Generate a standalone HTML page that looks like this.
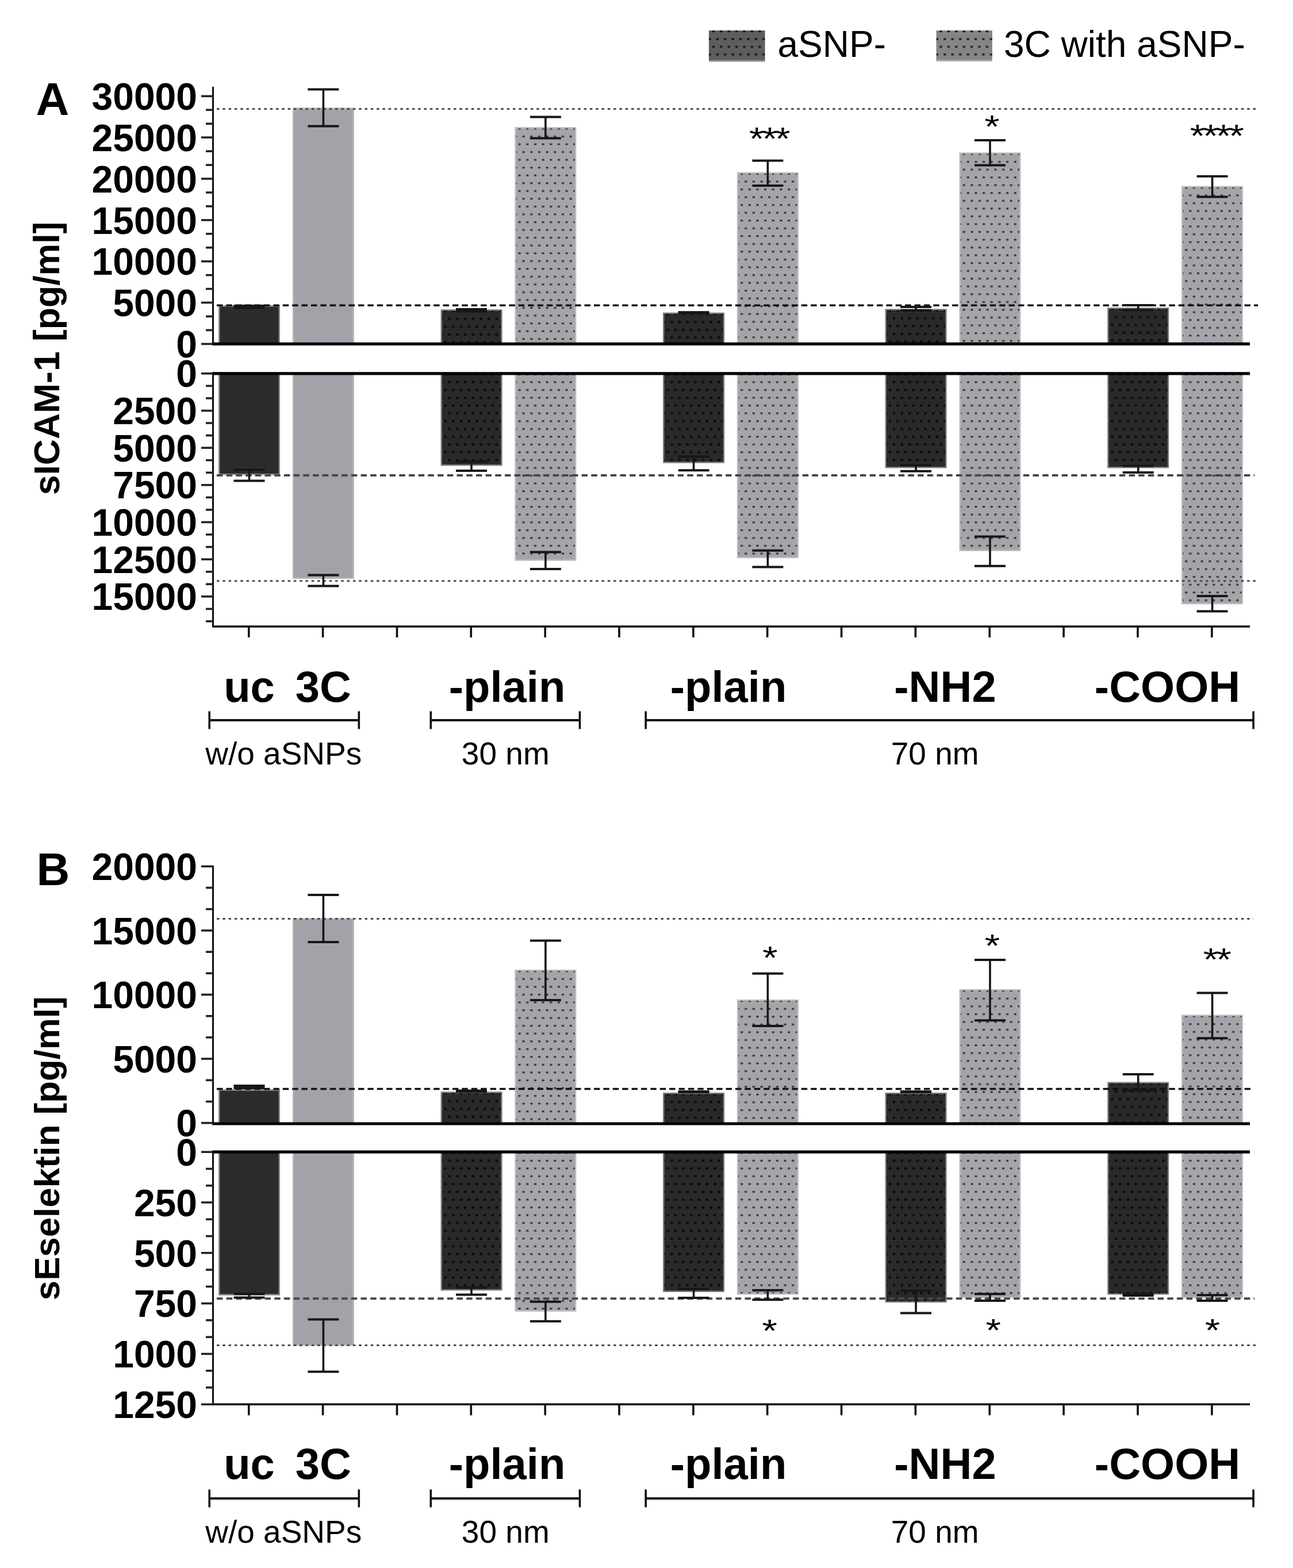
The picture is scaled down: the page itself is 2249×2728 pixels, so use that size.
<!DOCTYPE html>
<html><head><meta charset="utf-8"><title>sICAM-1 and sEselektin</title>
<style>html,body{margin:0;padding:0;background:#fff;}svg{display:block;}</style></head>
<body>
<svg width="2249" height="2728" viewBox="0 0 2249 2728" font-family='"Liberation Sans", Arial, sans-serif'>
<defs>
<pattern id="lg1" patternUnits="userSpaceOnUse" x="1230.00" y="50.00" width="13.4" height="26.8"><rect width="13.4" height="26.8" fill="#5e5e5e"/><rect x="8.73" y="3.00" width="4.5" height="3.2" fill="#141414"/><rect x="2.26" y="16.40" width="4.5" height="3.2" fill="#141414"/></pattern>
<pattern id="lg2" patternUnits="userSpaceOnUse" x="1625.50" y="50.00" width="13.4" height="26.8"><rect width="13.4" height="26.8" fill="#858585"/><rect x="8.73" y="3.00" width="4.5" height="3.2" fill="#1e1e1e"/><rect x="2.26" y="16.40" width="4.5" height="3.2" fill="#1e1e1e"/></pattern>
<pattern id="p1" patternUnits="userSpaceOnUse" x="763.55" y="536.50" width="13.67" height="27.1"><rect width="13.67" height="27.1" fill="#2a2a2a"/><rect x="9.00" y="2.50" width="4.4" height="4.2" fill="#0c0c0c"/><rect x="2.40" y="16.05" width="4.4" height="4.2" fill="#0c0c0c"/></pattern>
<pattern id="p2" patternUnits="userSpaceOnUse" x="892.40" y="219.30" width="13.67" height="27.1"><rect width="13.67" height="27.1" fill="#a6a4aa"/><rect x="9.20" y="3.10" width="4.0" height="3.0" fill="#2e2e2e"/><rect x="2.60" y="16.65" width="4.0" height="3.0" fill="#2e2e2e"/></pattern>
<pattern id="p3" patternUnits="userSpaceOnUse" x="1150.10" y="542.00" width="13.67" height="27.1"><rect width="13.67" height="27.1" fill="#2a2a2a"/><rect x="9.00" y="2.50" width="4.4" height="4.2" fill="#0c0c0c"/><rect x="2.40" y="16.05" width="4.4" height="4.2" fill="#0c0c0c"/></pattern>
<pattern id="p4" patternUnits="userSpaceOnUse" x="1278.95" y="297.80" width="13.67" height="27.1"><rect width="13.67" height="27.1" fill="#a6a4aa"/><rect x="9.20" y="3.10" width="4.0" height="3.0" fill="#2e2e2e"/><rect x="2.60" y="16.65" width="4.0" height="3.0" fill="#2e2e2e"/></pattern>
<pattern id="p5" patternUnits="userSpaceOnUse" x="1536.65" y="535.60" width="13.67" height="27.1"><rect width="13.67" height="27.1" fill="#2a2a2a"/><rect x="9.00" y="2.50" width="4.4" height="4.2" fill="#0c0c0c"/><rect x="2.40" y="16.05" width="4.4" height="4.2" fill="#0c0c0c"/></pattern>
<pattern id="p6" patternUnits="userSpaceOnUse" x="1665.50" y="263.40" width="13.67" height="27.1"><rect width="13.67" height="27.1" fill="#a6a4aa"/><rect x="9.20" y="3.10" width="4.0" height="3.0" fill="#2e2e2e"/><rect x="2.60" y="16.65" width="4.0" height="3.0" fill="#2e2e2e"/></pattern>
<pattern id="p7" patternUnits="userSpaceOnUse" x="1923.20" y="533.30" width="13.67" height="27.1"><rect width="13.67" height="27.1" fill="#2a2a2a"/><rect x="9.00" y="2.50" width="4.4" height="4.2" fill="#0c0c0c"/><rect x="2.40" y="16.05" width="4.4" height="4.2" fill="#0c0c0c"/></pattern>
<pattern id="p8" patternUnits="userSpaceOnUse" x="2052.05" y="321.80" width="13.67" height="27.1"><rect width="13.67" height="27.1" fill="#a6a4aa"/><rect x="9.20" y="3.10" width="4.0" height="3.0" fill="#2e2e2e"/><rect x="2.60" y="16.65" width="4.0" height="3.0" fill="#2e2e2e"/></pattern>
<pattern id="p9" patternUnits="userSpaceOnUse" x="763.55" y="646.80" width="13.67" height="27.1"><rect width="13.67" height="27.1" fill="#2a2a2a"/><rect x="9.00" y="2.50" width="4.4" height="4.2" fill="#0c0c0c"/><rect x="2.40" y="16.05" width="4.4" height="4.2" fill="#0c0c0c"/></pattern>
<pattern id="p10" patternUnits="userSpaceOnUse" x="892.40" y="646.80" width="13.67" height="27.1"><rect width="13.67" height="27.1" fill="#a6a4aa"/><rect x="9.20" y="3.10" width="4.0" height="3.0" fill="#2e2e2e"/><rect x="2.60" y="16.65" width="4.0" height="3.0" fill="#2e2e2e"/></pattern>
<pattern id="p11" patternUnits="userSpaceOnUse" x="1150.10" y="646.80" width="13.67" height="27.1"><rect width="13.67" height="27.1" fill="#2a2a2a"/><rect x="9.00" y="2.50" width="4.4" height="4.2" fill="#0c0c0c"/><rect x="2.40" y="16.05" width="4.4" height="4.2" fill="#0c0c0c"/></pattern>
<pattern id="p12" patternUnits="userSpaceOnUse" x="1278.95" y="646.80" width="13.67" height="27.1"><rect width="13.67" height="27.1" fill="#a6a4aa"/><rect x="9.20" y="3.10" width="4.0" height="3.0" fill="#2e2e2e"/><rect x="2.60" y="16.65" width="4.0" height="3.0" fill="#2e2e2e"/></pattern>
<pattern id="p13" patternUnits="userSpaceOnUse" x="1536.65" y="646.80" width="13.67" height="27.1"><rect width="13.67" height="27.1" fill="#2a2a2a"/><rect x="9.00" y="2.50" width="4.4" height="4.2" fill="#0c0c0c"/><rect x="2.40" y="16.05" width="4.4" height="4.2" fill="#0c0c0c"/></pattern>
<pattern id="p14" patternUnits="userSpaceOnUse" x="1665.50" y="646.80" width="13.67" height="27.1"><rect width="13.67" height="27.1" fill="#a6a4aa"/><rect x="9.20" y="3.10" width="4.0" height="3.0" fill="#2e2e2e"/><rect x="2.60" y="16.65" width="4.0" height="3.0" fill="#2e2e2e"/></pattern>
<pattern id="p15" patternUnits="userSpaceOnUse" x="1923.20" y="646.80" width="13.67" height="27.1"><rect width="13.67" height="27.1" fill="#2a2a2a"/><rect x="9.00" y="2.50" width="4.4" height="4.2" fill="#0c0c0c"/><rect x="2.40" y="16.05" width="4.4" height="4.2" fill="#0c0c0c"/></pattern>
<pattern id="p16" patternUnits="userSpaceOnUse" x="2052.05" y="646.80" width="13.67" height="27.1"><rect width="13.67" height="27.1" fill="#a6a4aa"/><rect x="9.20" y="3.10" width="4.0" height="3.0" fill="#2e2e2e"/><rect x="2.60" y="16.65" width="4.0" height="3.0" fill="#2e2e2e"/></pattern>
<pattern id="p17" patternUnits="userSpaceOnUse" x="763.55" y="1897.50" width="13.67" height="27.1"><rect width="13.67" height="27.1" fill="#2a2a2a"/><rect x="9.00" y="2.50" width="4.4" height="4.2" fill="#0c0c0c"/><rect x="2.40" y="16.05" width="4.4" height="4.2" fill="#0c0c0c"/></pattern>
<pattern id="p18" patternUnits="userSpaceOnUse" x="892.40" y="1685.20" width="13.67" height="27.1"><rect width="13.67" height="27.1" fill="#a6a4aa"/><rect x="9.20" y="3.10" width="4.0" height="3.0" fill="#2e2e2e"/><rect x="2.60" y="16.65" width="4.0" height="3.0" fill="#2e2e2e"/></pattern>
<pattern id="p19" patternUnits="userSpaceOnUse" x="1150.10" y="1899.20" width="13.67" height="27.1"><rect width="13.67" height="27.1" fill="#2a2a2a"/><rect x="9.00" y="2.50" width="4.4" height="4.2" fill="#0c0c0c"/><rect x="2.40" y="16.05" width="4.4" height="4.2" fill="#0c0c0c"/></pattern>
<pattern id="p20" patternUnits="userSpaceOnUse" x="1278.95" y="1737.10" width="13.67" height="27.1"><rect width="13.67" height="27.1" fill="#a6a4aa"/><rect x="9.20" y="3.10" width="4.0" height="3.0" fill="#2e2e2e"/><rect x="2.60" y="16.65" width="4.0" height="3.0" fill="#2e2e2e"/></pattern>
<pattern id="p21" patternUnits="userSpaceOnUse" x="1536.65" y="1899.20" width="13.67" height="27.1"><rect width="13.67" height="27.1" fill="#2a2a2a"/><rect x="9.00" y="2.50" width="4.4" height="4.2" fill="#0c0c0c"/><rect x="2.40" y="16.05" width="4.4" height="4.2" fill="#0c0c0c"/></pattern>
<pattern id="p22" patternUnits="userSpaceOnUse" x="1665.50" y="1719.20" width="13.67" height="27.1"><rect width="13.67" height="27.1" fill="#a6a4aa"/><rect x="9.20" y="3.10" width="4.0" height="3.0" fill="#2e2e2e"/><rect x="2.60" y="16.65" width="4.0" height="3.0" fill="#2e2e2e"/></pattern>
<pattern id="p23" patternUnits="userSpaceOnUse" x="1923.20" y="1880.70" width="13.67" height="27.1"><rect width="13.67" height="27.1" fill="#2a2a2a"/><rect x="9.00" y="2.50" width="4.4" height="4.2" fill="#0c0c0c"/><rect x="2.40" y="16.05" width="4.4" height="4.2" fill="#0c0c0c"/></pattern>
<pattern id="p24" patternUnits="userSpaceOnUse" x="2052.05" y="1763.60" width="13.67" height="27.1"><rect width="13.67" height="27.1" fill="#a6a4aa"/><rect x="9.20" y="3.10" width="4.0" height="3.0" fill="#2e2e2e"/><rect x="2.60" y="16.65" width="4.0" height="3.0" fill="#2e2e2e"/></pattern>
<pattern id="p25" patternUnits="userSpaceOnUse" x="763.55" y="2001.20" width="13.67" height="27.1"><rect width="13.67" height="27.1" fill="#2a2a2a"/><rect x="9.00" y="2.50" width="4.4" height="4.2" fill="#0c0c0c"/><rect x="2.40" y="16.05" width="4.4" height="4.2" fill="#0c0c0c"/></pattern>
<pattern id="p26" patternUnits="userSpaceOnUse" x="892.40" y="2001.20" width="13.67" height="27.1"><rect width="13.67" height="27.1" fill="#a6a4aa"/><rect x="9.20" y="3.10" width="4.0" height="3.0" fill="#2e2e2e"/><rect x="2.60" y="16.65" width="4.0" height="3.0" fill="#2e2e2e"/></pattern>
<pattern id="p27" patternUnits="userSpaceOnUse" x="1150.10" y="2001.20" width="13.67" height="27.1"><rect width="13.67" height="27.1" fill="#2a2a2a"/><rect x="9.00" y="2.50" width="4.4" height="4.2" fill="#0c0c0c"/><rect x="2.40" y="16.05" width="4.4" height="4.2" fill="#0c0c0c"/></pattern>
<pattern id="p28" patternUnits="userSpaceOnUse" x="1278.95" y="2001.20" width="13.67" height="27.1"><rect width="13.67" height="27.1" fill="#a6a4aa"/><rect x="9.20" y="3.10" width="4.0" height="3.0" fill="#2e2e2e"/><rect x="2.60" y="16.65" width="4.0" height="3.0" fill="#2e2e2e"/></pattern>
<pattern id="p29" patternUnits="userSpaceOnUse" x="1536.65" y="2001.20" width="13.67" height="27.1"><rect width="13.67" height="27.1" fill="#2a2a2a"/><rect x="9.00" y="2.50" width="4.4" height="4.2" fill="#0c0c0c"/><rect x="2.40" y="16.05" width="4.4" height="4.2" fill="#0c0c0c"/></pattern>
<pattern id="p30" patternUnits="userSpaceOnUse" x="1665.50" y="2001.20" width="13.67" height="27.1"><rect width="13.67" height="27.1" fill="#a6a4aa"/><rect x="9.20" y="3.10" width="4.0" height="3.0" fill="#2e2e2e"/><rect x="2.60" y="16.65" width="4.0" height="3.0" fill="#2e2e2e"/></pattern>
<pattern id="p31" patternUnits="userSpaceOnUse" x="1923.20" y="2001.20" width="13.67" height="27.1"><rect width="13.67" height="27.1" fill="#2a2a2a"/><rect x="9.00" y="2.50" width="4.4" height="4.2" fill="#0c0c0c"/><rect x="2.40" y="16.05" width="4.4" height="4.2" fill="#0c0c0c"/></pattern>
<pattern id="p32" patternUnits="userSpaceOnUse" x="2052.05" y="2001.20" width="13.67" height="27.1"><rect width="13.67" height="27.1" fill="#a6a4aa"/><rect x="9.20" y="3.10" width="4.0" height="3.0" fill="#2e2e2e"/><rect x="2.60" y="16.65" width="4.0" height="3.0" fill="#2e2e2e"/></pattern>
</defs>
<rect width="2249" height="2728" fill="#fff"/>

<rect x="1233" y="53" width="97.6" height="52" fill="url(#lg1)"/><rect x="1233" y="104.8" width="97.6" height="2.8" fill="#9a9a9a"/>
<text x="1352.5" y="99.0" font-size="64" font-weight="normal" text-anchor="start">aSNP-</text>
<rect x="1628.5" y="53" width="97.4" height="51.5" fill="url(#lg2)"/><rect x="1628.5" y="104.3" width="97.4" height="2.6" fill="#aaa"/>
<text x="1746.0" y="99.0" font-size="64" font-weight="normal" text-anchor="start">3C with aSNP-</text>
<text x="62.5" y="199.7" font-size="80" font-weight="bold" text-anchor="start">A</text>
<text x="0" y="0" font-size="62.5" font-weight="bold" text-anchor="middle" transform="translate(102.7,623.5) rotate(-90)">sICAM-1 [pg/ml]</text>
<rect x="381.2" y="532.5" width="104.6" height="65.9" fill="#2b2b2b" stroke="#8a8a8a" stroke-width="2.4"/>
<rect x="510.1" y="188.5" width="104.6" height="409.9" fill="#a4a1a8" stroke="#b8b8b8" stroke-width="2.4"/>
<rect x="767.8" y="539.5" width="104.6" height="58.9" fill="url(#p1)" stroke="#7a7a7a" stroke-width="2.4"/>
<rect x="896.6" y="222.3" width="104.6" height="376.1" fill="url(#p2)" stroke="#bdbdbd" stroke-width="2.4"/>
<rect x="1154.3" y="545.0" width="104.6" height="53.4" fill="url(#p3)" stroke="#7a7a7a" stroke-width="2.4"/>
<rect x="1283.1" y="300.8" width="104.6" height="297.6" fill="url(#p4)" stroke="#bdbdbd" stroke-width="2.4"/>
<rect x="1540.8" y="538.6" width="104.6" height="59.8" fill="url(#p5)" stroke="#7a7a7a" stroke-width="2.4"/>
<rect x="1669.7" y="266.4" width="104.6" height="332.0" fill="url(#p6)" stroke="#bdbdbd" stroke-width="2.4"/>
<rect x="1927.4" y="536.3" width="104.6" height="62.1" fill="url(#p7)" stroke="#7a7a7a" stroke-width="2.4"/>
<rect x="2056.2" y="324.8" width="104.6" height="273.6" fill="url(#p8)" stroke="#bdbdbd" stroke-width="2.4"/>
<rect x="381.2" y="649.8" width="104.6" height="175.4" fill="#2b2b2b" stroke="#8a8a8a" stroke-width="2.4"/>
<rect x="510.1" y="649.8" width="104.6" height="356.2" fill="#a4a1a8" stroke="#b8b8b8" stroke-width="2.4"/>
<rect x="767.8" y="649.8" width="104.6" height="159.4" fill="url(#p9)" stroke="#7a7a7a" stroke-width="2.4"/>
<rect x="896.6" y="649.8" width="104.6" height="324.7" fill="url(#p10)" stroke="#bdbdbd" stroke-width="2.4"/>
<rect x="1154.3" y="649.8" width="104.6" height="154.7" fill="url(#p11)" stroke="#7a7a7a" stroke-width="2.4"/>
<rect x="1283.1" y="649.8" width="104.6" height="320.1" fill="url(#p12)" stroke="#bdbdbd" stroke-width="2.4"/>
<rect x="1540.8" y="649.8" width="104.6" height="163.4" fill="url(#p13)" stroke="#7a7a7a" stroke-width="2.4"/>
<rect x="1669.7" y="649.8" width="104.6" height="307.9" fill="url(#p14)" stroke="#bdbdbd" stroke-width="2.4"/>
<rect x="1927.4" y="649.8" width="104.6" height="163.4" fill="url(#p15)" stroke="#7a7a7a" stroke-width="2.4"/>
<rect x="2056.2" y="649.8" width="104.6" height="400.4" fill="url(#p16)" stroke="#bdbdbd" stroke-width="2.4"/>
<line x1="377.0" y1="189.6" x2="2186.0" y2="189.6" stroke="#4a4a4a" stroke-width="3" stroke-dasharray="4.5 5.8"/>
<line x1="377.0" y1="531.3" x2="2188.0" y2="531.3" stroke="#111" stroke-width="3.4" stroke-dasharray="10.4 6"/>
<line x1="377.0" y1="827.1" x2="2182.0" y2="827.1" stroke="#484848" stroke-width="4" stroke-dasharray="10.5 6.2"/>
<line x1="377.0" y1="1010.8" x2="2185.0" y2="1010.8" stroke="#4a4a4a" stroke-width="3" stroke-dasharray="4.5 5.8"/>
<g stroke="#161616" fill="none"><line x1="433.5" y1="531.9" x2="433.5" y2="535.7" stroke-width="3.6"/><line x1="406.5" y1="531.9" x2="460.5" y2="531.9" stroke-width="4"/><line x1="406.5" y1="535.7" x2="460.5" y2="535.7" stroke-width="4"/></g>
<g stroke="#161616" fill="none"><line x1="562.4" y1="155.6" x2="562.4" y2="219.6" stroke-width="3.6"/><line x1="535.4" y1="155.6" x2="589.4" y2="155.6" stroke-width="4"/><line x1="535.4" y1="219.6" x2="589.4" y2="219.6" stroke-width="4"/></g>
<g stroke="#161616" fill="none"><line x1="820.0" y1="537.9" x2="820.0" y2="541.5" stroke-width="3.6"/><line x1="793.0" y1="537.9" x2="847.0" y2="537.9" stroke-width="4"/><line x1="793.0" y1="541.5" x2="847.0" y2="541.5" stroke-width="4"/></g>
<g stroke="#161616" fill="none"><line x1="948.9" y1="203.4" x2="948.9" y2="240.5" stroke-width="3.6"/><line x1="921.9" y1="203.4" x2="975.9" y2="203.4" stroke-width="4"/><line x1="921.9" y1="240.5" x2="975.9" y2="240.5" stroke-width="4"/></g>
<g stroke="#161616" fill="none"><line x1="1206.6" y1="543.3" x2="1206.6" y2="544.8" stroke-width="3.6"/><line x1="1179.6" y1="543.3" x2="1233.6" y2="543.3" stroke-width="4"/><line x1="1179.6" y1="544.8" x2="1233.6" y2="544.8" stroke-width="4"/></g>
<g stroke="#161616" fill="none"><line x1="1335.4" y1="279.4" x2="1335.4" y2="322.9" stroke-width="3.6"/><line x1="1308.4" y1="279.4" x2="1362.4" y2="279.4" stroke-width="4"/><line x1="1308.4" y1="322.9" x2="1362.4" y2="322.9" stroke-width="4"/></g>
<g stroke="#161616" fill="none"><line x1="1593.1" y1="534.0" x2="1593.1" y2="540.0" stroke-width="3.6"/><line x1="1566.1" y1="534.0" x2="1620.1" y2="534.0" stroke-width="4"/><line x1="1566.1" y1="540.0" x2="1620.1" y2="540.0" stroke-width="4"/></g>
<g stroke="#161616" fill="none"><line x1="1722.0" y1="243.9" x2="1722.0" y2="287.5" stroke-width="3.6"/><line x1="1695.0" y1="243.9" x2="1749.0" y2="243.9" stroke-width="4"/><line x1="1695.0" y1="287.5" x2="1749.0" y2="287.5" stroke-width="4"/></g>
<g stroke="#161616" fill="none"><line x1="1979.7" y1="531.1" x2="1979.7" y2="539.4" stroke-width="3.6"/><line x1="1952.7" y1="531.1" x2="2006.7" y2="531.1" stroke-width="4"/><line x1="1952.7" y1="539.4" x2="2006.7" y2="539.4" stroke-width="4"/></g>
<g stroke="#161616" fill="none"><line x1="2108.6" y1="306.7" x2="2108.6" y2="342.4" stroke-width="3.6"/><line x1="2081.6" y1="306.7" x2="2135.6" y2="306.7" stroke-width="4"/><line x1="2081.6" y1="342.4" x2="2135.6" y2="342.4" stroke-width="4"/></g>
<g stroke="#161616" fill="none"><line x1="433.5" y1="817.6" x2="433.5" y2="836.6" stroke-width="3.6"/><line x1="406.5" y1="817.6" x2="460.5" y2="817.6" stroke-width="4"/><line x1="406.5" y1="836.6" x2="460.5" y2="836.6" stroke-width="4"/></g>
<g stroke="#161616" fill="none"><line x1="562.4" y1="1000.6" x2="562.4" y2="1019.5" stroke-width="3.6"/><line x1="535.4" y1="1000.6" x2="589.4" y2="1000.6" stroke-width="4"/><line x1="535.4" y1="1019.5" x2="589.4" y2="1019.5" stroke-width="4"/></g>
<g stroke="#161616" fill="none"><line x1="820.0" y1="802.9" x2="820.0" y2="818.9" stroke-width="3.6"/><line x1="793.0" y1="802.9" x2="847.0" y2="802.9" stroke-width="4"/><line x1="793.0" y1="818.9" x2="847.0" y2="818.9" stroke-width="4"/></g>
<g stroke="#161616" fill="none"><line x1="948.9" y1="960.6" x2="948.9" y2="990.0" stroke-width="3.6"/><line x1="921.9" y1="960.6" x2="975.9" y2="960.6" stroke-width="4"/><line x1="921.9" y1="990.0" x2="975.9" y2="990.0" stroke-width="4"/></g>
<g stroke="#161616" fill="none"><line x1="1206.6" y1="794.2" x2="1206.6" y2="818.2" stroke-width="3.6"/><line x1="1179.6" y1="794.2" x2="1233.6" y2="794.2" stroke-width="4"/><line x1="1179.6" y1="818.2" x2="1233.6" y2="818.2" stroke-width="4"/></g>
<g stroke="#161616" fill="none"><line x1="1335.4" y1="957.7" x2="1335.4" y2="986.6" stroke-width="3.6"/><line x1="1308.4" y1="957.7" x2="1362.4" y2="957.7" stroke-width="4"/><line x1="1308.4" y1="986.6" x2="1362.4" y2="986.6" stroke-width="4"/></g>
<g stroke="#161616" fill="none"><line x1="1593.1" y1="809.4" x2="1593.1" y2="819.7" stroke-width="3.6"/><line x1="1566.1" y1="809.4" x2="1620.1" y2="809.4" stroke-width="4"/><line x1="1566.1" y1="819.7" x2="1620.1" y2="819.7" stroke-width="4"/></g>
<g stroke="#161616" fill="none"><line x1="1722.0" y1="933.4" x2="1722.0" y2="984.7" stroke-width="3.6"/><line x1="1695.0" y1="933.4" x2="1749.0" y2="933.4" stroke-width="4"/><line x1="1695.0" y1="984.7" x2="1749.0" y2="984.7" stroke-width="4"/></g>
<g stroke="#161616" fill="none"><line x1="1979.7" y1="810.6" x2="1979.7" y2="821.9" stroke-width="3.6"/><line x1="1952.7" y1="810.6" x2="2006.7" y2="810.6" stroke-width="4"/><line x1="1952.7" y1="821.9" x2="2006.7" y2="821.9" stroke-width="4"/></g>
<g stroke="#161616" fill="none"><line x1="2108.6" y1="1037.0" x2="2108.6" y2="1063.4" stroke-width="3.6"/><line x1="2081.6" y1="1037.0" x2="2135.6" y2="1037.0" stroke-width="4"/><line x1="2081.6" y1="1063.4" x2="2135.6" y2="1063.4" stroke-width="4"/></g>
<line x1="370.5" y1="151.0" x2="370.5" y2="600.4" stroke="#000" stroke-width="2.8"/>
<line x1="370.5" y1="647.8" x2="370.5" y2="1090.0" stroke="#000" stroke-width="2.8"/>
<line x1="369.1" y1="598.4" x2="2174.0" y2="598.4" stroke="#000" stroke-width="5.2"/>
<line x1="369.1" y1="649.8" x2="2174.0" y2="649.8" stroke="#000" stroke-width="5.3"/>
<line x1="369.1" y1="1090.0" x2="2174.0" y2="1090.0" stroke="#000" stroke-width="3.6"/>
<line x1="432.8" y1="1090.0" x2="432.8" y2="1109.0" stroke="#111" stroke-width="3.6"/>
<line x1="561.6" y1="1090.0" x2="561.6" y2="1109.0" stroke="#111" stroke-width="3.6"/>
<line x1="690.5" y1="1090.0" x2="690.5" y2="1109.0" stroke="#111" stroke-width="3.6"/>
<line x1="819.3" y1="1090.0" x2="819.3" y2="1109.0" stroke="#111" stroke-width="3.6"/>
<line x1="948.2" y1="1090.0" x2="948.2" y2="1109.0" stroke="#111" stroke-width="3.6"/>
<line x1="1077.0" y1="1090.0" x2="1077.0" y2="1109.0" stroke="#111" stroke-width="3.6"/>
<line x1="1205.9" y1="1090.0" x2="1205.9" y2="1109.0" stroke="#111" stroke-width="3.6"/>
<line x1="1334.7" y1="1090.0" x2="1334.7" y2="1109.0" stroke="#111" stroke-width="3.6"/>
<line x1="1463.6" y1="1090.0" x2="1463.6" y2="1109.0" stroke="#111" stroke-width="3.6"/>
<line x1="1592.4" y1="1090.0" x2="1592.4" y2="1109.0" stroke="#111" stroke-width="3.6"/>
<line x1="1721.3" y1="1090.0" x2="1721.3" y2="1109.0" stroke="#111" stroke-width="3.6"/>
<line x1="1850.1" y1="1090.0" x2="1850.1" y2="1109.0" stroke="#111" stroke-width="3.6"/>
<line x1="1979.0" y1="1090.0" x2="1979.0" y2="1109.0" stroke="#111" stroke-width="3.6"/>
<line x1="2107.9" y1="1090.0" x2="2107.9" y2="1109.0" stroke="#111" stroke-width="3.6"/>
<line x1="350.0" y1="598.4" x2="370.5" y2="598.4" stroke="#222" stroke-width="3.6"/>
<text x="343.0" y="622.0" font-size="66" font-weight="bold" text-anchor="end">0</text>
<line x1="350.0" y1="526.5" x2="370.5" y2="526.5" stroke="#222" stroke-width="3.6"/>
<text x="343.0" y="550.2" font-size="66" font-weight="bold" text-anchor="end">5000</text>
<line x1="350.0" y1="454.7" x2="370.5" y2="454.7" stroke="#222" stroke-width="3.6"/>
<text x="343.0" y="478.3" font-size="66" font-weight="bold" text-anchor="end">10000</text>
<line x1="350.0" y1="382.9" x2="370.5" y2="382.9" stroke="#222" stroke-width="3.6"/>
<text x="343.0" y="406.5" font-size="66" font-weight="bold" text-anchor="end">15000</text>
<line x1="350.0" y1="311.0" x2="370.5" y2="311.0" stroke="#222" stroke-width="3.6"/>
<text x="343.0" y="334.6" font-size="66" font-weight="bold" text-anchor="end">20000</text>
<line x1="350.0" y1="239.1" x2="370.5" y2="239.1" stroke="#222" stroke-width="3.6"/>
<text x="343.0" y="262.8" font-size="66" font-weight="bold" text-anchor="end">25000</text>
<line x1="350.0" y1="167.3" x2="370.5" y2="167.3" stroke="#222" stroke-width="3.6"/>
<text x="343.0" y="190.9" font-size="66" font-weight="bold" text-anchor="end">30000</text>
<line x1="358.0" y1="574.4" x2="370.5" y2="574.4" stroke="#222" stroke-width="3.6"/>
<line x1="358.0" y1="550.5" x2="370.5" y2="550.5" stroke="#222" stroke-width="3.6"/>
<line x1="358.0" y1="502.6" x2="370.5" y2="502.6" stroke="#222" stroke-width="3.6"/>
<line x1="358.0" y1="478.6" x2="370.5" y2="478.6" stroke="#222" stroke-width="3.6"/>
<line x1="358.0" y1="430.8" x2="370.5" y2="430.8" stroke="#222" stroke-width="3.6"/>
<line x1="358.0" y1="406.8" x2="370.5" y2="406.8" stroke="#222" stroke-width="3.6"/>
<line x1="358.0" y1="358.9" x2="370.5" y2="358.9" stroke="#222" stroke-width="3.6"/>
<line x1="358.0" y1="334.9" x2="370.5" y2="334.9" stroke="#222" stroke-width="3.6"/>
<line x1="358.0" y1="287.0" x2="370.5" y2="287.0" stroke="#222" stroke-width="3.6"/>
<line x1="358.0" y1="263.1" x2="370.5" y2="263.1" stroke="#222" stroke-width="3.6"/>
<line x1="358.0" y1="215.2" x2="370.5" y2="215.2" stroke="#222" stroke-width="3.6"/>
<line x1="358.0" y1="191.2" x2="370.5" y2="191.2" stroke="#222" stroke-width="3.6"/>
<line x1="350.0" y1="649.8" x2="370.5" y2="649.8" stroke="#222" stroke-width="3.6"/>
<text x="343.0" y="673.4" font-size="66" font-weight="bold" text-anchor="end">0</text>
<line x1="350.0" y1="714.5" x2="370.5" y2="714.5" stroke="#222" stroke-width="3.6"/>
<text x="343.0" y="738.1" font-size="66" font-weight="bold" text-anchor="end">2500</text>
<line x1="350.0" y1="779.1" x2="370.5" y2="779.1" stroke="#222" stroke-width="3.6"/>
<text x="343.0" y="802.8" font-size="66" font-weight="bold" text-anchor="end">5000</text>
<line x1="350.0" y1="843.8" x2="370.5" y2="843.8" stroke="#222" stroke-width="3.6"/>
<text x="343.0" y="867.4" font-size="66" font-weight="bold" text-anchor="end">7500</text>
<line x1="350.0" y1="908.5" x2="370.5" y2="908.5" stroke="#222" stroke-width="3.6"/>
<text x="343.0" y="932.1" font-size="66" font-weight="bold" text-anchor="end">10000</text>
<line x1="350.0" y1="973.1" x2="370.5" y2="973.1" stroke="#222" stroke-width="3.6"/>
<text x="343.0" y="996.8" font-size="66" font-weight="bold" text-anchor="end">12500</text>
<line x1="350.0" y1="1037.8" x2="370.5" y2="1037.8" stroke="#222" stroke-width="3.6"/>
<text x="343.0" y="1061.4" font-size="66" font-weight="bold" text-anchor="end">15000</text>
<line x1="358.0" y1="671.4" x2="370.5" y2="671.4" stroke="#222" stroke-width="3.6"/>
<line x1="358.0" y1="692.9" x2="370.5" y2="692.9" stroke="#222" stroke-width="3.6"/>
<line x1="358.0" y1="736.0" x2="370.5" y2="736.0" stroke="#222" stroke-width="3.6"/>
<line x1="358.0" y1="757.6" x2="370.5" y2="757.6" stroke="#222" stroke-width="3.6"/>
<line x1="358.0" y1="800.7" x2="370.5" y2="800.7" stroke="#222" stroke-width="3.6"/>
<line x1="358.0" y1="822.3" x2="370.5" y2="822.3" stroke="#222" stroke-width="3.6"/>
<line x1="358.0" y1="865.4" x2="370.5" y2="865.4" stroke="#222" stroke-width="3.6"/>
<line x1="358.0" y1="886.9" x2="370.5" y2="886.9" stroke="#222" stroke-width="3.6"/>
<line x1="358.0" y1="930.0" x2="370.5" y2="930.0" stroke="#222" stroke-width="3.6"/>
<line x1="358.0" y1="951.6" x2="370.5" y2="951.6" stroke="#222" stroke-width="3.6"/>
<line x1="358.0" y1="994.7" x2="370.5" y2="994.7" stroke="#222" stroke-width="3.6"/>
<line x1="358.0" y1="1016.3" x2="370.5" y2="1016.3" stroke="#222" stroke-width="3.6"/>
<line x1="358.0" y1="1059.4" x2="370.5" y2="1059.4" stroke="#222" stroke-width="3.6"/>
<line x1="358.0" y1="1080.9" x2="370.5" y2="1080.9" stroke="#222" stroke-width="3.6"/>
<text transform="translate(1337.0,260.3) scale(1.17,0.96)" font-size="58" text-anchor="middle" letter-spacing="-3.25">***</text>
<text transform="translate(1723.5,239.0) scale(1.17,0.96)" font-size="58" text-anchor="middle" letter-spacing="-3.25">*</text>
<text transform="translate(2115.0,255.2) scale(1.17,0.96)" font-size="58" text-anchor="middle" letter-spacing="-3.25">****</text>
<text x="433.5" y="1220.6" font-size="76" font-weight="bold" text-anchor="middle">uc</text>
<text x="562.4" y="1220.6" font-size="76" font-weight="bold" text-anchor="middle">3C</text>
<text x="882.0" y="1220.6" font-size="76" font-weight="bold" text-anchor="middle">-plain</text>
<text x="1267.0" y="1220.6" font-size="76" font-weight="bold" text-anchor="middle">-plain</text>
<text x="1644.0" y="1220.6" font-size="76" font-weight="bold" text-anchor="middle">-NH2</text>
<text x="2030.5" y="1220.6" font-size="76" font-weight="bold" text-anchor="middle">-COOH</text>
<line x1="364.2" y1="1252.9" x2="624.3" y2="1252.9" stroke="#111" stroke-width="4"/>
<line x1="364.2" y1="1237.4" x2="364.2" y2="1268.4" stroke="#111" stroke-width="3.6"/>
<line x1="624.3" y1="1237.4" x2="624.3" y2="1268.4" stroke="#111" stroke-width="3.6"/>
<line x1="749.3" y1="1252.9" x2="1008.5" y2="1252.9" stroke="#111" stroke-width="4"/>
<line x1="749.3" y1="1237.4" x2="749.3" y2="1268.4" stroke="#111" stroke-width="3.6"/>
<line x1="1008.5" y1="1237.4" x2="1008.5" y2="1268.4" stroke="#111" stroke-width="3.6"/>
<line x1="1123.2" y1="1252.9" x2="2180.1" y2="1252.9" stroke="#111" stroke-width="4"/>
<line x1="1123.2" y1="1237.4" x2="1123.2" y2="1268.4" stroke="#111" stroke-width="3.6"/>
<line x1="2180.1" y1="1237.4" x2="2180.1" y2="1268.4" stroke="#111" stroke-width="3.6"/>
<text x="493.2" y="1329.5" font-size="55" font-weight="normal" text-anchor="middle">w/o aSNPs</text>
<text x="879.3" y="1329.5" font-size="55" font-weight="normal" text-anchor="middle">30 nm</text>
<text x="1626.2" y="1329.5" font-size="55" font-weight="normal" text-anchor="middle">70 nm</text>
<text x="63.5" y="1539.9" font-size="80" font-weight="bold" text-anchor="start">B</text>
<text x="0" y="0" font-size="61.8" font-weight="bold" text-anchor="middle" transform="translate(102.7,1997.8) rotate(-90)">sEselektin [pg/ml]</text>
<rect x="381.2" y="1896.5" width="104.6" height="58.5" fill="#2b2b2b" stroke="#8a8a8a" stroke-width="2.4"/>
<rect x="510.1" y="1598.6" width="104.6" height="356.4" fill="#a4a1a8" stroke="#b8b8b8" stroke-width="2.4"/>
<rect x="767.8" y="1900.5" width="104.6" height="54.5" fill="url(#p17)" stroke="#7a7a7a" stroke-width="2.4"/>
<rect x="896.6" y="1688.2" width="104.6" height="266.8" fill="url(#p18)" stroke="#bdbdbd" stroke-width="2.4"/>
<rect x="1154.3" y="1902.2" width="104.6" height="52.8" fill="url(#p19)" stroke="#7a7a7a" stroke-width="2.4"/>
<rect x="1283.1" y="1740.1" width="104.6" height="214.9" fill="url(#p20)" stroke="#bdbdbd" stroke-width="2.4"/>
<rect x="1540.8" y="1902.2" width="104.6" height="52.8" fill="url(#p21)" stroke="#7a7a7a" stroke-width="2.4"/>
<rect x="1669.7" y="1722.2" width="104.6" height="232.8" fill="url(#p22)" stroke="#bdbdbd" stroke-width="2.4"/>
<rect x="1927.4" y="1883.7" width="104.6" height="71.3" fill="url(#p23)" stroke="#7a7a7a" stroke-width="2.4"/>
<rect x="2056.2" y="1766.6" width="104.6" height="188.4" fill="url(#p24)" stroke="#bdbdbd" stroke-width="2.4"/>
<rect x="381.2" y="2004.2" width="104.6" height="248.3" fill="#2b2b2b" stroke="#8a8a8a" stroke-width="2.4"/>
<rect x="510.1" y="2004.2" width="104.6" height="336.2" fill="#a4a1a8" stroke="#b8b8b8" stroke-width="2.4"/>
<rect x="767.8" y="2004.2" width="104.6" height="239.9" fill="url(#p25)" stroke="#7a7a7a" stroke-width="2.4"/>
<rect x="896.6" y="2004.2" width="104.6" height="276.5" fill="url(#p26)" stroke="#bdbdbd" stroke-width="2.4"/>
<rect x="1154.3" y="2004.2" width="104.6" height="242.5" fill="url(#p27)" stroke="#7a7a7a" stroke-width="2.4"/>
<rect x="1283.1" y="2004.2" width="104.6" height="247.1" fill="url(#p28)" stroke="#bdbdbd" stroke-width="2.4"/>
<rect x="1540.8" y="2004.2" width="104.6" height="260.8" fill="url(#p29)" stroke="#7a7a7a" stroke-width="2.4"/>
<rect x="1669.7" y="2004.2" width="104.6" height="253.0" fill="url(#p30)" stroke="#bdbdbd" stroke-width="2.4"/>
<rect x="1927.4" y="2004.2" width="104.6" height="247.1" fill="url(#p31)" stroke="#7a7a7a" stroke-width="2.4"/>
<rect x="2056.2" y="2004.2" width="104.6" height="253.0" fill="url(#p32)" stroke="#bdbdbd" stroke-width="2.4"/>
<line x1="377.0" y1="1598.4" x2="2180.0" y2="1598.4" stroke="#4a4a4a" stroke-width="3" stroke-dasharray="4.5 5.8"/>
<line x1="377.0" y1="1894.5" x2="2176.0" y2="1894.5" stroke="#111" stroke-width="3.4" stroke-dasharray="10.4 6"/>
<line x1="377.0" y1="2259.3" x2="2182.0" y2="2259.3" stroke="#484848" stroke-width="4" stroke-dasharray="10.5 6.2"/>
<line x1="377.0" y1="2340.6" x2="2185.0" y2="2340.6" stroke="#4a4a4a" stroke-width="3" stroke-dasharray="4.5 5.8"/>
<g stroke="#161616" fill="none"><line x1="433.5" y1="1889.0" x2="433.5" y2="1893.0" stroke-width="3.6"/><line x1="406.5" y1="1889.0" x2="460.5" y2="1889.0" stroke-width="4"/><line x1="406.5" y1="1893.0" x2="460.5" y2="1893.0" stroke-width="4"/></g>
<g stroke="#161616" fill="none"><line x1="562.4" y1="1557.0" x2="562.4" y2="1639.0" stroke-width="3.6"/><line x1="535.4" y1="1557.0" x2="589.4" y2="1557.0" stroke-width="4"/><line x1="535.4" y1="1639.0" x2="589.4" y2="1639.0" stroke-width="4"/></g>
<g stroke="#161616" fill="none"><line x1="820.0" y1="1897.6" x2="820.0" y2="1899.0" stroke-width="3.6"/><line x1="793.0" y1="1897.6" x2="847.0" y2="1897.6" stroke-width="4"/><line x1="793.0" y1="1899.0" x2="847.0" y2="1899.0" stroke-width="4"/></g>
<g stroke="#161616" fill="none"><line x1="948.9" y1="1636.4" x2="948.9" y2="1739.9" stroke-width="3.6"/><line x1="921.9" y1="1636.4" x2="975.9" y2="1636.4" stroke-width="4"/><line x1="921.9" y1="1739.9" x2="975.9" y2="1739.9" stroke-width="4"/></g>
<g stroke="#161616" fill="none"><line x1="1206.6" y1="1899.0" x2="1206.6" y2="1900.0" stroke-width="3.6"/><line x1="1179.6" y1="1899.0" x2="1233.6" y2="1899.0" stroke-width="4"/><line x1="1179.6" y1="1900.0" x2="1233.6" y2="1900.0" stroke-width="4"/></g>
<g stroke="#161616" fill="none"><line x1="1335.4" y1="1693.8" x2="1335.4" y2="1785.1" stroke-width="3.6"/><line x1="1308.4" y1="1693.8" x2="1362.4" y2="1693.8" stroke-width="4"/><line x1="1308.4" y1="1785.1" x2="1362.4" y2="1785.1" stroke-width="4"/></g>
<g stroke="#161616" fill="none"><line x1="1593.1" y1="1899.0" x2="1593.1" y2="1900.0" stroke-width="3.6"/><line x1="1566.1" y1="1899.0" x2="1620.1" y2="1899.0" stroke-width="4"/><line x1="1566.1" y1="1900.0" x2="1620.1" y2="1900.0" stroke-width="4"/></g>
<g stroke="#161616" fill="none"><line x1="1722.0" y1="1670.0" x2="1722.0" y2="1775.2" stroke-width="3.6"/><line x1="1695.0" y1="1670.0" x2="1749.0" y2="1670.0" stroke-width="4"/><line x1="1695.0" y1="1775.2" x2="1749.0" y2="1775.2" stroke-width="4"/></g>
<g stroke="#161616" fill="none"><line x1="1979.7" y1="1869.1" x2="1979.7" y2="1897.0" stroke-width="3.6"/><line x1="1952.7" y1="1869.1" x2="2006.7" y2="1869.1" stroke-width="4"/><line x1="1952.7" y1="1897.0" x2="2006.7" y2="1897.0" stroke-width="4"/></g>
<g stroke="#161616" fill="none"><line x1="2108.6" y1="1727.5" x2="2108.6" y2="1806.3" stroke-width="3.6"/><line x1="2081.6" y1="1727.5" x2="2135.6" y2="1727.5" stroke-width="4"/><line x1="2081.6" y1="1806.3" x2="2135.6" y2="1806.3" stroke-width="4"/></g>
<g stroke="#161616" fill="none"><line x1="433.5" y1="2251.2" x2="433.5" y2="2257.5" stroke-width="3.6"/><line x1="406.5" y1="2251.2" x2="460.5" y2="2251.2" stroke-width="4"/><line x1="406.5" y1="2257.5" x2="460.5" y2="2257.5" stroke-width="4"/></g>
<g stroke="#161616" fill="none"><line x1="562.4" y1="2295.4" x2="562.4" y2="2386.6" stroke-width="3.6"/><line x1="535.4" y1="2295.4" x2="589.4" y2="2295.4" stroke-width="4"/><line x1="535.4" y1="2386.6" x2="589.4" y2="2386.6" stroke-width="4"/></g>
<g stroke="#161616" fill="none"><line x1="820.0" y1="2239.9" x2="820.0" y2="2252.5" stroke-width="3.6"/><line x1="793.0" y1="2239.9" x2="847.0" y2="2239.9" stroke-width="4"/><line x1="793.0" y1="2252.5" x2="847.0" y2="2252.5" stroke-width="4"/></g>
<g stroke="#161616" fill="none"><line x1="948.9" y1="2264.7" x2="948.9" y2="2298.8" stroke-width="3.6"/><line x1="921.9" y1="2264.7" x2="975.9" y2="2264.7" stroke-width="4"/><line x1="921.9" y1="2298.8" x2="975.9" y2="2298.8" stroke-width="4"/></g>
<g stroke="#161616" fill="none"><line x1="1206.6" y1="2242.7" x2="1206.6" y2="2258.0" stroke-width="3.6"/><line x1="1179.6" y1="2242.7" x2="1233.6" y2="2242.7" stroke-width="4"/><line x1="1179.6" y1="2258.0" x2="1233.6" y2="2258.0" stroke-width="4"/></g>
<g stroke="#161616" fill="none"><line x1="1335.4" y1="2244.7" x2="1335.4" y2="2261.3" stroke-width="3.6"/><line x1="1308.4" y1="2244.7" x2="1362.4" y2="2244.7" stroke-width="4"/><line x1="1308.4" y1="2261.3" x2="1362.4" y2="2261.3" stroke-width="4"/></g>
<g stroke="#161616" fill="none"><line x1="1593.1" y1="2245.5" x2="1593.1" y2="2284.6" stroke-width="3.6"/><line x1="1566.1" y1="2245.5" x2="1620.1" y2="2245.5" stroke-width="4"/><line x1="1566.1" y1="2284.6" x2="1620.1" y2="2284.6" stroke-width="4"/></g>
<g stroke="#161616" fill="none"><line x1="1722.0" y1="2251.3" x2="1722.0" y2="2263.1" stroke-width="3.6"/><line x1="1695.0" y1="2251.3" x2="1749.0" y2="2251.3" stroke-width="4"/><line x1="1695.0" y1="2263.1" x2="1749.0" y2="2263.1" stroke-width="4"/></g>
<g stroke="#161616" fill="none"><line x1="1979.7" y1="2252.0" x2="1979.7" y2="2254.0" stroke-width="3.6"/><line x1="1952.7" y1="2252.0" x2="2006.7" y2="2252.0" stroke-width="4"/><line x1="1952.7" y1="2254.0" x2="2006.7" y2="2254.0" stroke-width="4"/></g>
<g stroke="#161616" fill="none"><line x1="2108.6" y1="2253.3" x2="2108.6" y2="2263.1" stroke-width="3.6"/><line x1="2081.6" y1="2253.3" x2="2135.6" y2="2253.3" stroke-width="4"/><line x1="2081.6" y1="2263.1" x2="2135.6" y2="2263.1" stroke-width="4"/></g>
<line x1="370.5" y1="1506.0" x2="370.5" y2="1957.0" stroke="#000" stroke-width="2.8"/>
<line x1="370.5" y1="2002.2" x2="370.5" y2="2443.3" stroke="#000" stroke-width="2.8"/>
<line x1="369.1" y1="1955.0" x2="2174.0" y2="1955.0" stroke="#000" stroke-width="5.2"/>
<line x1="369.1" y1="2004.2" x2="2174.0" y2="2004.2" stroke="#000" stroke-width="5.3"/>
<line x1="369.1" y1="2443.3" x2="2174.0" y2="2443.3" stroke="#000" stroke-width="3.6"/>
<line x1="432.8" y1="2443.3" x2="432.8" y2="2462.3" stroke="#111" stroke-width="3.6"/>
<line x1="561.6" y1="2443.3" x2="561.6" y2="2462.3" stroke="#111" stroke-width="3.6"/>
<line x1="690.5" y1="2443.3" x2="690.5" y2="2462.3" stroke="#111" stroke-width="3.6"/>
<line x1="819.3" y1="2443.3" x2="819.3" y2="2462.3" stroke="#111" stroke-width="3.6"/>
<line x1="948.2" y1="2443.3" x2="948.2" y2="2462.3" stroke="#111" stroke-width="3.6"/>
<line x1="1077.0" y1="2443.3" x2="1077.0" y2="2462.3" stroke="#111" stroke-width="3.6"/>
<line x1="1205.9" y1="2443.3" x2="1205.9" y2="2462.3" stroke="#111" stroke-width="3.6"/>
<line x1="1334.7" y1="2443.3" x2="1334.7" y2="2462.3" stroke="#111" stroke-width="3.6"/>
<line x1="1463.6" y1="2443.3" x2="1463.6" y2="2462.3" stroke="#111" stroke-width="3.6"/>
<line x1="1592.4" y1="2443.3" x2="1592.4" y2="2462.3" stroke="#111" stroke-width="3.6"/>
<line x1="1721.3" y1="2443.3" x2="1721.3" y2="2462.3" stroke="#111" stroke-width="3.6"/>
<line x1="1850.1" y1="2443.3" x2="1850.1" y2="2462.3" stroke="#111" stroke-width="3.6"/>
<line x1="1979.0" y1="2443.3" x2="1979.0" y2="2462.3" stroke="#111" stroke-width="3.6"/>
<line x1="2107.9" y1="2443.3" x2="2107.9" y2="2462.3" stroke="#111" stroke-width="3.6"/>
<line x1="350.0" y1="1953.7" x2="370.5" y2="1953.7" stroke="#222" stroke-width="3.6"/>
<text x="343.0" y="1977.3" font-size="66" font-weight="bold" text-anchor="end">0</text>
<line x1="350.0" y1="1842.1" x2="370.5" y2="1842.1" stroke="#222" stroke-width="3.6"/>
<text x="343.0" y="1865.7" font-size="66" font-weight="bold" text-anchor="end">5000</text>
<line x1="350.0" y1="1730.5" x2="370.5" y2="1730.5" stroke="#222" stroke-width="3.6"/>
<text x="343.0" y="1754.1" font-size="66" font-weight="bold" text-anchor="end">10000</text>
<line x1="350.0" y1="1618.9" x2="370.5" y2="1618.9" stroke="#222" stroke-width="3.6"/>
<text x="343.0" y="1642.5" font-size="66" font-weight="bold" text-anchor="end">15000</text>
<line x1="350.0" y1="1507.3" x2="370.5" y2="1507.3" stroke="#222" stroke-width="3.6"/>
<text x="343.0" y="1530.9" font-size="66" font-weight="bold" text-anchor="end">20000</text>
<line x1="358.0" y1="1916.5" x2="370.5" y2="1916.5" stroke="#222" stroke-width="3.6"/>
<line x1="358.0" y1="1879.3" x2="370.5" y2="1879.3" stroke="#222" stroke-width="3.6"/>
<line x1="358.0" y1="1804.9" x2="370.5" y2="1804.9" stroke="#222" stroke-width="3.6"/>
<line x1="358.0" y1="1767.7" x2="370.5" y2="1767.7" stroke="#222" stroke-width="3.6"/>
<line x1="358.0" y1="1693.3" x2="370.5" y2="1693.3" stroke="#222" stroke-width="3.6"/>
<line x1="358.0" y1="1656.1" x2="370.5" y2="1656.1" stroke="#222" stroke-width="3.6"/>
<line x1="358.0" y1="1581.7" x2="370.5" y2="1581.7" stroke="#222" stroke-width="3.6"/>
<line x1="358.0" y1="1544.5" x2="370.5" y2="1544.5" stroke="#222" stroke-width="3.6"/>
<line x1="350.0" y1="2004.2" x2="370.5" y2="2004.2" stroke="#222" stroke-width="3.6"/>
<text x="343.0" y="2027.8" font-size="66" font-weight="bold" text-anchor="end">0</text>
<line x1="350.0" y1="2092.0" x2="370.5" y2="2092.0" stroke="#222" stroke-width="3.6"/>
<text x="343.0" y="2115.6" font-size="66" font-weight="bold" text-anchor="end">250</text>
<line x1="350.0" y1="2179.8" x2="370.5" y2="2179.8" stroke="#222" stroke-width="3.6"/>
<text x="343.0" y="2203.5" font-size="66" font-weight="bold" text-anchor="end">500</text>
<line x1="350.0" y1="2267.7" x2="370.5" y2="2267.7" stroke="#222" stroke-width="3.6"/>
<text x="343.0" y="2291.3" font-size="66" font-weight="bold" text-anchor="end">750</text>
<line x1="350.0" y1="2355.5" x2="370.5" y2="2355.5" stroke="#222" stroke-width="3.6"/>
<text x="343.0" y="2379.1" font-size="66" font-weight="bold" text-anchor="end">1000</text>
<line x1="350.0" y1="2443.3" x2="370.5" y2="2443.3" stroke="#222" stroke-width="3.6"/>
<text x="343.0" y="2466.9" font-size="66" font-weight="bold" text-anchor="end">1250</text>
<line x1="358.0" y1="2033.5" x2="370.5" y2="2033.5" stroke="#222" stroke-width="3.6"/>
<line x1="358.0" y1="2062.7" x2="370.5" y2="2062.7" stroke="#222" stroke-width="3.6"/>
<line x1="358.0" y1="2121.3" x2="370.5" y2="2121.3" stroke="#222" stroke-width="3.6"/>
<line x1="358.0" y1="2150.6" x2="370.5" y2="2150.6" stroke="#222" stroke-width="3.6"/>
<line x1="358.0" y1="2209.1" x2="370.5" y2="2209.1" stroke="#222" stroke-width="3.6"/>
<line x1="358.0" y1="2238.4" x2="370.5" y2="2238.4" stroke="#222" stroke-width="3.6"/>
<line x1="358.0" y1="2296.9" x2="370.5" y2="2296.9" stroke="#222" stroke-width="3.6"/>
<line x1="358.0" y1="2326.2" x2="370.5" y2="2326.2" stroke="#222" stroke-width="3.6"/>
<line x1="358.0" y1="2384.8" x2="370.5" y2="2384.8" stroke="#222" stroke-width="3.6"/>
<line x1="358.0" y1="2414.0" x2="370.5" y2="2414.0" stroke="#222" stroke-width="3.6"/>
<text transform="translate(1337.5,1684.8) scale(1.17,0.96)" font-size="58" text-anchor="middle" letter-spacing="-3.25">*</text>
<text transform="translate(1724.0,1663.9) scale(1.17,0.96)" font-size="58" text-anchor="middle" letter-spacing="-3.25">*</text>
<text transform="translate(2115.4,1687.7) scale(1.17,0.96)" font-size="58" text-anchor="middle" letter-spacing="-3.25">**</text>
<text transform="translate(1336.8,2334.3) scale(1.17,0.96)" font-size="58" text-anchor="middle" letter-spacing="-3.25">*</text>
<text transform="translate(1725.9,2333.1) scale(1.17,0.96)" font-size="58" text-anchor="middle" letter-spacing="-3.25">*</text>
<text transform="translate(2107.0,2333.0) scale(1.17,0.96)" font-size="58" text-anchor="middle" letter-spacing="-3.25">*</text>
<text x="433.5" y="2573.1" font-size="76" font-weight="bold" text-anchor="middle">uc</text>
<text x="562.4" y="2573.1" font-size="76" font-weight="bold" text-anchor="middle">3C</text>
<text x="882.0" y="2573.1" font-size="76" font-weight="bold" text-anchor="middle">-plain</text>
<text x="1267.0" y="2573.1" font-size="76" font-weight="bold" text-anchor="middle">-plain</text>
<text x="1644.0" y="2573.1" font-size="76" font-weight="bold" text-anchor="middle">-NH2</text>
<text x="2030.5" y="2573.1" font-size="76" font-weight="bold" text-anchor="middle">-COOH</text>
<line x1="364.2" y1="2606.9" x2="624.3" y2="2606.9" stroke="#111" stroke-width="4"/>
<line x1="364.2" y1="2591.4" x2="364.2" y2="2622.4" stroke="#111" stroke-width="3.6"/>
<line x1="624.3" y1="2591.4" x2="624.3" y2="2622.4" stroke="#111" stroke-width="3.6"/>
<line x1="749.3" y1="2606.9" x2="1008.5" y2="2606.9" stroke="#111" stroke-width="4"/>
<line x1="749.3" y1="2591.4" x2="749.3" y2="2622.4" stroke="#111" stroke-width="3.6"/>
<line x1="1008.5" y1="2591.4" x2="1008.5" y2="2622.4" stroke="#111" stroke-width="3.6"/>
<line x1="1123.2" y1="2606.9" x2="2180.1" y2="2606.9" stroke="#111" stroke-width="4"/>
<line x1="1123.2" y1="2591.4" x2="1123.2" y2="2622.4" stroke="#111" stroke-width="3.6"/>
<line x1="2180.1" y1="2591.4" x2="2180.1" y2="2622.4" stroke="#111" stroke-width="3.6"/>
<text x="493.2" y="2683.5" font-size="55" font-weight="normal" text-anchor="middle">w/o aSNPs</text>
<text x="879.3" y="2683.5" font-size="55" font-weight="normal" text-anchor="middle">30 nm</text>
<text x="1626.2" y="2683.5" font-size="55" font-weight="normal" text-anchor="middle">70 nm</text>
</svg></body></html>
